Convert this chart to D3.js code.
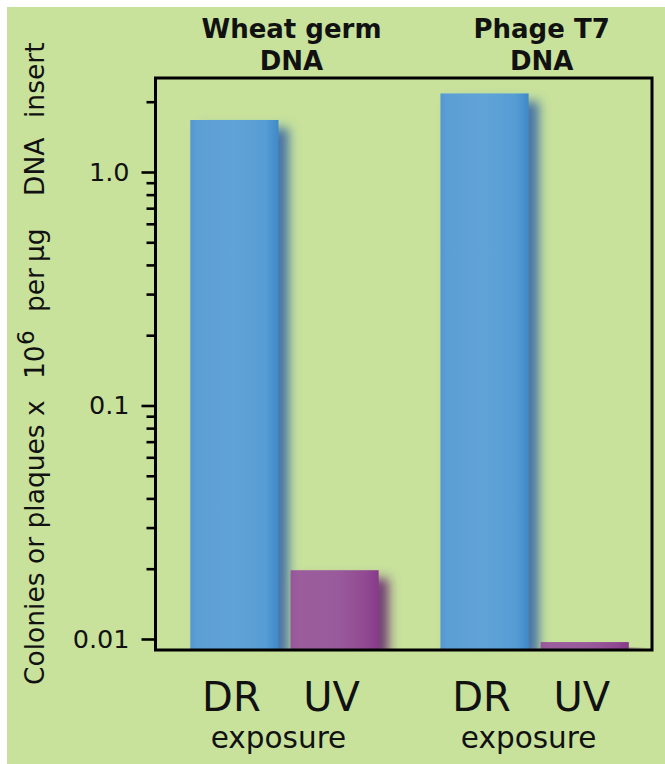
<!DOCTYPE html>
<html>
<head>
<meta charset="utf-8">
<script src="https://cdn.jsdelivr.net/npm/d3@7"></script>
<style>
  html, body { margin: 0; padding: 0; background: #ffffff; }
  svg { display: block; }
</style>
</head>
<body>
<svg id="chart" width="665" height="764"></svg>
<script>
// ---- data ----
const groups = ["Wheat germ DNA", "Phage T7 DNA"];
const groupTitles = [["Wheat germ", "DNA"], ["Phage T7", "DNA"]];
const treatments = ["DR", "UV"];
const drValues = [1.67, 2.17];
const uvValues = [0.0197, 0.0097];
const majorTicks = [0.01, 0.1, 1.0];
const majorTickLabels = ["0.01", "0.1", "1.0"];
const minorTicks = [0.02, 0.03, 0.04, 0.05, 0.06, 0.07, 0.08, 0.09,
                    0.2, 0.3, 0.4, 0.5, 0.6, 0.7, 0.8, 0.9, 2];
const xSubLabel = "exposure";

const rows = [];
groups.forEach((g, i) => {
  rows.push({ group: g, t: "DR", v: drValues[i] });
  rows.push({ group: g, t: "UV", v: uvValues[i] });
});

// ---- layout ----
const svg = d3.select("#chart");
const plot = { left: 155.5, right: 652, top: 78, bottom: 650 };
const font = "'DejaVu Sans', Verdana, sans-serif";

svg.append("rect").attr("x", 7).attr("y", 7).attr("width", 665).attr("height", 764)
  .attr("fill", "#c8e29c");

const defs = svg.append("defs");
function grad(id, stops) {
  const g = defs.append("linearGradient").attr("id", id)
    .attr("x1", "0").attr("x2", "1").attr("y1", "0").attr("y2", "0");
  stops.forEach(s => g.append("stop").attr("offset", s[0]).attr("stop-color", s[1]));
}
grad("gDR", [[0, "#5198d1"], [0.08, "#5c9fd5"], [0.5, "#5fa3d7"], [0.85, "#579dd4"], [1, "#3f89c9"]]);
grad("gUV", [[0, "#965798"], [0.1, "#9b5d9c"], [0.55, "#995a9b"], [0.85, "#914a92"], [1, "#873a89"]]);

const f = defs.append("filter").attr("id", "shadow")
  .attr("x", "-30%").attr("y", "-30%").attr("width", "180%").attr("height", "160%");
f.append("feGaussianBlur").attr("in", "SourceGraphic").attr("stdDeviation", 5.5).attr("result", "bl");
f.append("feOffset").attr("in", "bl").attr("dx", 10).attr("dy", 8).attr("result", "off");
f.append("feColorMatrix").attr("in", "off").attr("type", "matrix")
  .attr("values", "0.55 0 0 0 0  0 0.45 0 0 0  0 0 0.62 0 0  0 0 0 0.9 0").attr("result", "sh");
const fm = f.append("feMerge");
fm.append("feMergeNode").attr("in", "sh");
fm.append("feMergeNode").attr("in", "SourceGraphic");

const lineBlur = defs.append("filter").attr("id", "lblur")
  .attr("x", "-20%").attr("y", "-300%").attr("width", "140%").attr("height", "700%");
lineBlur.append("feGaussianBlur").attr("stdDeviation", 1.5);

defs.append("clipPath").attr("id", "plotclip").append("rect")
  .attr("x", plot.left).attr("y", plot.top)
  .attr("width", plot.right - plot.left).attr("height", plot.bottom - plot.top);

// scales
const y = d3.scaleLog().domain([0.00897, 2.527]).range([plot.bottom, plot.top]);
const x0 = d3.scaleBand().domain(groups).range([plot.left, plot.right])
  .paddingInner(0.247).paddingOuter(0.116).align(0.6);
const x1 = d3.scaleBand().domain(treatments).range([0, x0.bandwidth()]).paddingInner(0.12);
const color = { DR: "url(#gDR)", UV: "url(#gUV)" };

// bars
const barG = svg.append("g").attr("clip-path", "url(#plotclip)");
barG.selectAll("rect.bar").data(rows).join("rect")
  .attr("class", "bar")
  .attr("x", d => x0(d.group) + x1(d.t))
  .attr("width", x1.bandwidth())
  .attr("y", d => y(d.v))
  .attr("height", d => plot.bottom - y(d.v))
  .attr("fill", d => color[d.t])
  .attr("filter", "url(#shadow)");

// frame
svg.append("rect")
  .attr("x", plot.left).attr("y", plot.top)
  .attr("width", plot.right - plot.left).attr("height", plot.bottom - plot.top)
  .attr("fill", "none").attr("stroke", "#000").attr("stroke-width", 3);

// y axis (major)
const axMajor = svg.append("g").attr("transform", `translate(${plot.left},0)`)
  .call(d3.axisLeft(y).tickValues(majorTicks).tickSize(14).tickPadding(12)
    .tickFormat((d, i) => majorTickLabels[i]));
axMajor.select(".domain").remove();
axMajor.selectAll(".tick line").attr("stroke", "#000").attr("stroke-width", 2.6);
axMajor.selectAll(".tick text").attr("font-family", font).attr("font-size", 25.5)
  .attr("fill", "#111");

// y axis (minor)
const axMinor = svg.append("g").attr("transform", `translate(${plot.left},0)`)
  .call(d3.axisLeft(y).tickValues(minorTicks).tickSize(9).tickFormat(""));
axMinor.select(".domain").remove();
axMinor.selectAll(".tick line").attr("stroke", "#000").attr("stroke-width", 2.6);

// group titles
groups.forEach((g, i) => {
  const cx = x0(g) + x0.bandwidth() / 2 + 7;
  const t = svg.append("text").attr("text-anchor", "middle")
    .attr("font-family", font).attr("font-weight", "bold").attr("font-size", 26)
    .attr("fill", "#111");
  t.append("tspan").attr("x", cx).attr("y", 38).text(groupTitles[i][0]);
  t.append("tspan").attr("x", cx).attr("y", 70).text(groupTitles[i][1]);
});

// faint shadow lines over DR labels
groups.forEach(g => {
  const xs = x0(g) + x1("DR");
  svg.append("line").attr("x1", xs).attr("x2", xs + x1.bandwidth() + 22)
    .attr("y1", 676).attr("y2", 676)
    .attr("stroke", "#9fb592").attr("stroke-opacity", 0.6).attr("stroke-width", 2)
    .attr("filter", "url(#lblur)");
});

// category labels
svg.append("g").selectAll("text").data(rows).join("text")
  .attr("x", d => x0(d.group) + x1(d.t) + x1.bandwidth() / 2 - 3)
  .attr("y", 711)
  .attr("text-anchor", "middle")
  .attr("font-family", font).attr("font-size", 40).attr("fill", "#111")
  .text(d => d.t);

svg.append("g").selectAll("text").data(groups).join("text")
  .attr("x", d => x0(d) + x0.bandwidth() / 2 - 6)
  .attr("y", 748)
  .attr("text-anchor", "middle")
  .attr("font-family", font).attr("font-size", 29.5).attr("fill", "#111")
  .text(xSubLabel);

// y label
const yl = svg.append("text").attr("transform", "translate(44,0) rotate(-90)")
  .attr("font-family", font).attr("font-size", 26.5).attr("fill", "#111");
yl.append("tspan").attr("x", -685).text("Colonies or plaques x");
yl.append("tspan").attr("x", -379).text("10");
yl.append("tspan").attr("x", -345).attr("dy", -10).attr("font-size", 23).text("6");
yl.append("tspan").attr("x", -312).attr("dy", 10).text("per");
yl.append("tspan").attr("x", -262).text("µg");
yl.append("tspan").attr("x", -196).text("DNA");
yl.append("tspan").attr("x", -118).text("insert");
</script>
</body>
</html>
